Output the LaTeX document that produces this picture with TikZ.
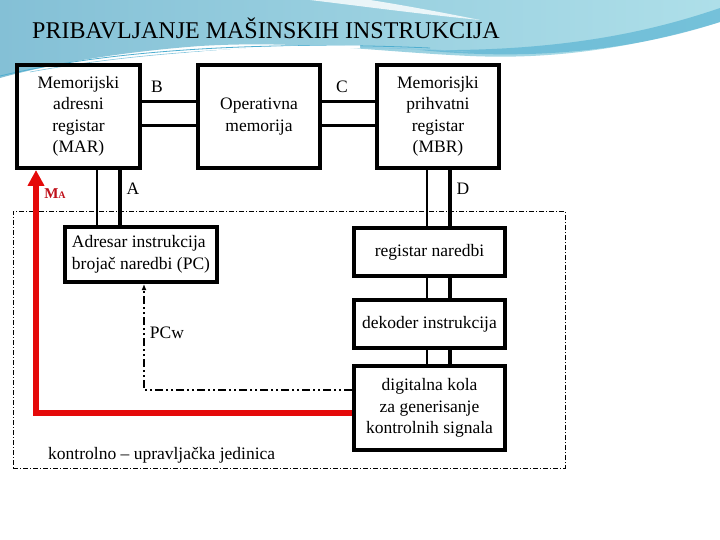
\documentclass[tikz,border=0pt]{standalone}
\usepackage{fontspec}
\setmainfont{Liberation Serif}
\usetikzlibrary{arrows.meta}
\definecolor{bandA}{HTML}{84C0D6}
\definecolor{bandB}{HTML}{AEDFE9}
\definecolor{bandC}{HTML}{4FAED0}
\definecolor{marrow}{HTML}{E50A0A}
\definecolor{malbl}{HTML}{C0101A}
\begin{document}
\begin{tikzpicture}[x=1pt,y=-1pt,
  box/.style={draw, line width=4pt, rectangle, inner sep=0pt, align=center,
    font=\fontsize{17.5}{21.5}\selectfont},
  lbl/.style={inner sep=0pt, font=\fontsize{17.5}{21.5}\selectfont},
  thinbus/.style={line width=2.3pt},
  thickbus/.style={line width=3.3pt},
  redline/.style={draw=marrow, line width=5.5pt, -{Triangle[length=16pt,width=16pt]}},
  ctlline/.style={line width=2pt, dash pattern=on 8pt off 3pt on 2pt off 3pt on 2pt off 3pt,
    -{Latex[length=6pt,width=5pt]}},
  ctrlbox/.style={draw, line width=0.9pt, dash pattern=on 5pt off 2pt on 1pt off 2pt,
    rectangle, inner sep=0pt}
]
\useasboundingbox (0,0) rectangle (720,540);
\fill[white] (0,0) rectangle (720,540);
% background band
\shade[left color=bandA, right color=bandB]
  (0,0) -- (720,0) -- (720,22) .. controls (640,46) and (560,60) .. (470,56)
  .. controls (380,52) and (300,40) .. (200,46) .. controls (120,52) and (50,64) .. (0,78) -- cycle;
\fill[white, opacity=0.8] (310,0) .. controls (360,6) and (420,14) .. (480,20)
  .. controls (430,10) and (390,3) .. (370,0) -- cycle;
\fill[bandC, opacity=0.6] (420,50) .. controls (560,52) and (650,32) .. (720,8)
  -- (720,22) .. controls (640,48) and (540,62) .. (420,50) -- cycle;
\draw[bandC, line width=0.8pt] (0,76) .. controls (100,52) and (250,40) .. (430,48);
\draw[bandC!70!white, line width=0.6pt] (30,72) .. controls (150,50) and (300,41) .. (470,52);
\draw[white, line width=3pt] (60,74) .. controls (150,54) and (260,46) .. (360,47);

% title
\node[anchor=base west, inner sep=0pt, font=\fontsize{24}{28}\selectfont] (title) at (32,39)
  {PRIBAVLJANJE MAŠINSKIH INSTRUKCIJA};

% control unit frame
\node[ctrlbox, minimum width=552pt, minimum height=257pt] (cu) at (289,339.5) {};
\node[lbl, anchor=base west] (cutxt) at (48,459) {kontrolno – upravljačka jedinica};

% boxes
\node[box, minimum width=123pt, minimum height=103pt] (mar) at (78.5,116.5)
  {Memorijski\\adresni\\registar\\(MAR)};
\node[box, minimum width=122pt, minimum height=103pt] (mem) at (259,116.5)
  {Operativna\\memorija};
\node[box, minimum width=122pt, minimum height=103pt] (mbr) at (438,116.5)
  {Memorisjki\\prihvatni\\registar\\(MBR)};
\node[box, minimum width=152pt, minimum height=55pt, align=left, inner xsep=6pt] (pc) at (141,254.5)
  {Adresar instrukcija\\brojač naredbi (PC)};
\node[box, minimum width=151pt, minimum height=48pt] (reg) at (429.5,252) {registar naredbi};
\node[box, minimum width=151pt, minimum height=48pt] (dek) at (429.5,324) {dekoder instrukcija};
\node[box, minimum width=151pt, minimum height=84pt] (dig) at (429.5,408)
  {digitalna kola\\za generisanje\\kontrolnih signala};

% buses B and C
\draw[line width=3pt] ([yshift=14.5pt]mar.east) -- ([yshift=14.5pt]mem.west);
\draw[line width=3pt] ([yshift=-9.5pt]mar.east) -- ([yshift=-9.5pt]mem.west);
\draw[line width=3pt] ([yshift=14.5pt]mem.east) -- ([yshift=14.5pt]mbr.west);
\draw[line width=3pt] ([yshift=-9.5pt]mem.east) -- ([yshift=-9.5pt]mbr.west);

% bus A
\draw[thinbus] ([xshift=18.5pt]mar.south) -- ([xshift=18.5pt]mar.south |- pc.north);
\draw[thickbus] ([xshift=41.5pt]mar.south) -- ([xshift=41.5pt]mar.south |- pc.north);

% bus D and internal
\draw[thinbus] ([xshift=-11pt]mbr.south) -- ([xshift=-11pt]mbr.south |- reg.north);
\draw[thickbus] ([xshift=12pt]mbr.south) -- ([xshift=12pt]mbr.south |- reg.north);
\draw[thinbus] ([xshift=-2.5pt]reg.south) -- ([xshift=-2.5pt]reg.south |- dek.north);
\draw[thickbus] ([xshift=20.5pt]reg.south) -- ([xshift=20.5pt]reg.south |- dek.north);
\draw[thinbus] ([xshift=-2.5pt]dek.south) -- ([xshift=-2.5pt]dek.south |- dig.north);
\draw[thickbus] ([xshift=20.5pt]dek.south) -- ([xshift=20.5pt]dek.south |- dig.north);

% control signals
\draw[ctlline] ([yshift=18pt]dig.west) -| ([xshift=3pt]pc.south);
\draw[redline] ([yshift=-5pt]dig.west) -| ([xshift=-42.5pt]mar.south);

% labels
\node[lbl] (lb) at (157,87) {B};
\node[lbl] (lc) at (342,87) {C};
\node[lbl] (la) at (133,189) {A};
\node[lbl] (ld) at (463,189) {D};
\node[lbl] (lpcw) at (167,333) {PCw};
\node[inner sep=0pt, text=malbl, font=\fontsize{15}{15}\selectfont\bfseries] (lma) at (55,194)
  {M{\fontsize{10}{10}\selectfont A}};
\end{tikzpicture}
\end{document}
